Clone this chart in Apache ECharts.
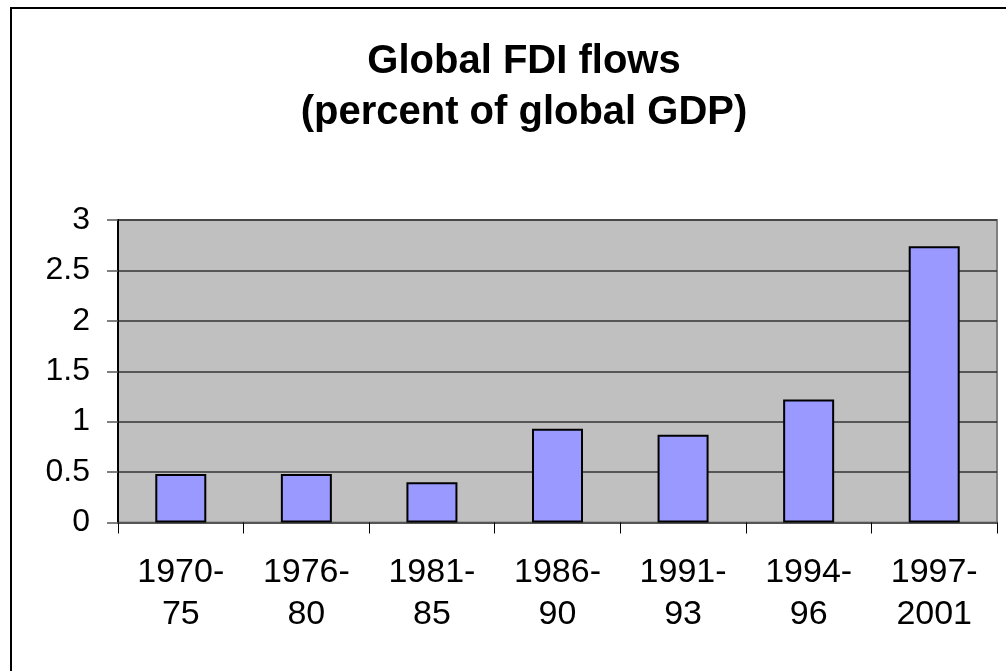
<!DOCTYPE html>
<html>
<head>
<meta charset="utf-8">
<script src="https://cdn.jsdelivr.net/npm/echarts@6/dist/echarts.min.js"></script>
<style>
html,body{margin:0;padding:0;background:#fff;}
#c{width:1006px;height:671px;}
</style>
</head>
<body>
<div id="c"></div>
<script>
var categories = ['1970-\n75', '1976-\n80', '1981-\n85', '1986-\n90', '1991-\n93', '1994-\n96', '1997-\n2001'];
var values = [0.48, 0.48, 0.40, 0.93, 0.87, 1.22, 2.74];
var yTicks = [0, 0.5, 1, 1.5, 2, 2.5, 3];
var titleText = 'Global FDI flows\n(percent of global GDP)';

var chart = echarts.init(document.getElementById('c'), null, {renderer: 'canvas'});
chart.setOption({
  animation: false,
  backgroundColor: '#ffffff',
  title: {
    text: titleText,
    left: 519,
    textAlign: 'center',
    top: 31,
    textStyle: {
      fontFamily: 'Liberation Sans, Arial, sans-serif',
      fontWeight: 'bold',
      fontSize: 40,
      lineHeight: 51,
      color: '#000'
    }
  },
  graphic: [{
    type: 'rect',
    shape: {x: 11, y: 8, width: 1100, height: 800},
    style: {fill: 'none', stroke: '#000', lineWidth: 2},
    silent: true,
    z: 100
  }],
  grid: {
    left: 118,
    right: 9,
    top: 220,
    bottom: 148.5,
    show: true,
    backgroundColor: '#c0c0c0',
    borderColor: '#808080',
    borderWidth: 2
  },
  xAxis: {
    type: 'category',
    data: categories,
    axisLine: {show: true, lineStyle: {color: '#555', width: 2}},
    axisTick: {show: true, alignWithLabel: false, length: 11, lineStyle: {color: '#000', width: 1}},
    axisLabel: {
      margin: 29,
      color: '#000',
      fontFamily: 'Liberation Sans, Arial, sans-serif',
      fontSize: 34,
      lineHeight: 42,
      interval: 0
    },
    splitLine: {show: false}
  },
  yAxis: {
    type: 'value',
    min: yTicks[0],
    max: yTicks[yTicks.length - 1],
    interval: 0.5,
    axisLine: {show: true, lineStyle: {color: '#000', width: 2}},
    axisTick: {show: true, length: 11, lineStyle: {color: '#555', width: 1.5}},
    axisLabel: {
      margin: 28,
      color: '#000',
      fontFamily: 'Liberation Sans, Arial, sans-serif',
      fontSize: 32
    },
    splitLine: {show: true, lineStyle: {color: '#333', width: 1.5}}
  },
  series: [{
    type: 'bar',
    data: values,
    barWidth: 51,
    itemStyle: {color: '#9999ff', borderColor: '#000', borderWidth: 2}
  }]
});
</script>
</body>
</html>
